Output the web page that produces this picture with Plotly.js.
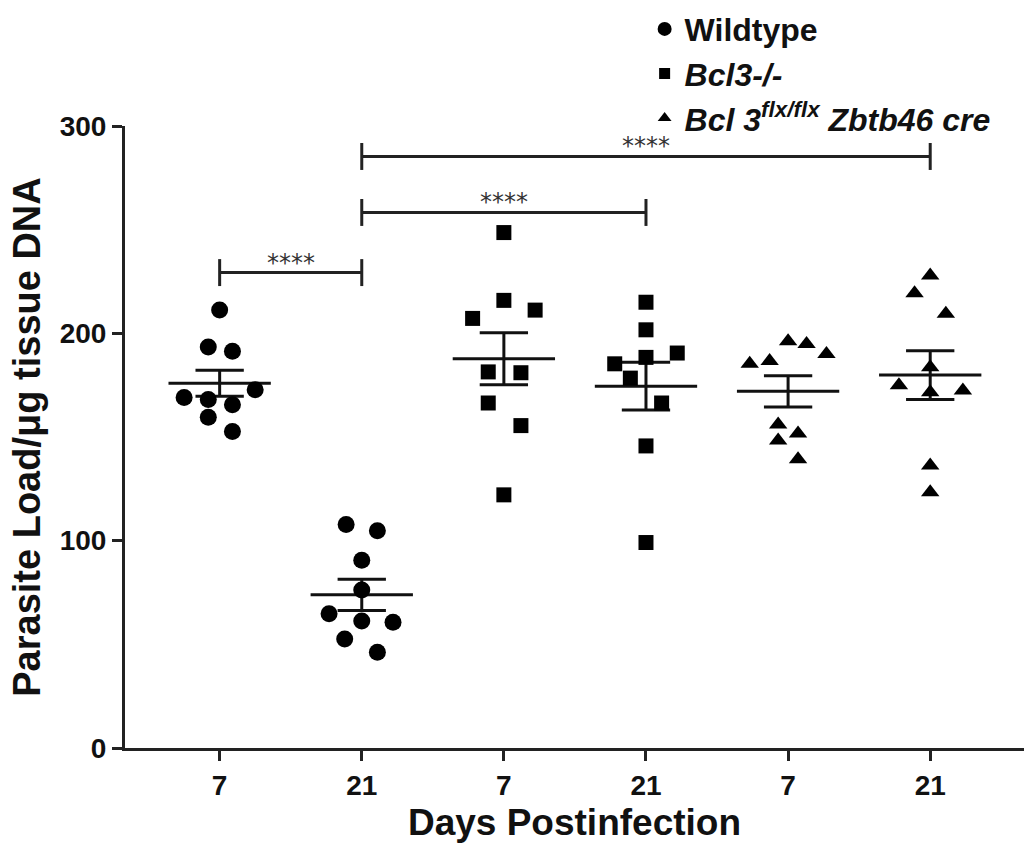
<!DOCTYPE html>
<html>
<head>
<meta charset="utf-8">
<script src="https://cdn.plot.ly/plotly-3.0.1.min.js"></script>
<style>html,body{margin:0;padding:0;background:#fff;}#chart{width:1024px;height:851px;}</style>
</head>
<body>
<div id="chart"></div>
<script>
// ---- data ----
const categories = [1, 2, 3, 4, 5, 6];
const tickLabels = ['7', '21', '7', '21', '7', '21'];

const wildtype7  = [211.2, 193.4, 191.4, 172.8, 169.0, 168.1, 165.5, 159.5, 152.6];
const wildtype7Jitter  = [0, -0.08, 0.09, 0.25, -0.25, -0.08, 0.09, -0.08, 0.09];
const wildtype21 = [107.8, 104.8, 90.5, 76.2, 64.7, 61.2, 60.7, 52.6, 46.2];
const wildtype21Jitter = [-0.11, 0.11, 0, 0, -0.23, 0, 0.22, -0.12, 0.11];

const bcl3ko7  = [248.6, 215.9, 211.2, 207.2, 181.4, 181.0, 166.4, 155.5, 122.1];
const bcl3ko7Jitter  = [0, 0, 0.22, -0.22, -0.11, 0.12, -0.11, 0.12, 0];
const bcl3ko21 = [215.0, 201.7, 188.4, 190.5, 185.3, 178.4, 166.4, 145.7, 99.1];
const bcl3ko21Jitter = [0, 0, 0, 0.22, -0.22, -0.11, 0.11, 0, 0];

const bcl3flx7  = [196.2, 194.8, 190.0, 185.3, 186.6, 156.0, 151.7, 148.3, 139.3];
const bcl3flx7Jitter  = [0, 0.13, 0.27, -0.27, -0.13, -0.07, 0.07, -0.07, 0.07];
const bcl3flx21 = [227.9, 219.3, 209.5, 183.6, 175.0, 171.6, 172.4, 136.2, 123.3];
const bcl3flx21Jitter = [0, -0.11, 0.11, 0, -0.22, 0, 0.23, 0, 0];

const seriesNames = ['<b>Wildtype</b>', '<b><i>Bcl3-/-</i></b>', '<b><i>Bcl 3<sup>flx/flx</sup> Zbtb46 cre</i></b>'];
const comparisons = [ // [from category, to category, bracket height, label]
  [1, 2, 229.3, '****'],
  [2, 4, 258.3, '****'],
  [2, 6, 285.3, '****']
];

// ---- helpers ----
function mean(a){ return a.reduce((s,v)=>s+v,0)/a.length; }
function sem(a){ const m=mean(a); const v=a.reduce((s,x)=>s+(x-m)*(x-m),0)/(a.length-1); return Math.sqrt(v/a.length); }

const groups = [
  {cat: categories[0], vals: wildtype7,  jit: wildtype7Jitter,  s: 0},
  {cat: categories[1], vals: wildtype21, jit: wildtype21Jitter, s: 0},
  {cat: categories[2], vals: bcl3ko7,    jit: bcl3ko7Jitter,    s: 1},
  {cat: categories[3], vals: bcl3ko21,   jit: bcl3ko21Jitter,   s: 1},
  {cat: categories[4], vals: bcl3flx7,   jit: bcl3flx7Jitter,   s: 2},
  {cat: categories[5], vals: bcl3flx21,  jit: bcl3flx21Jitter,  s: 2}
];
const symbols = ['circle', 'square', 'triangle-up'];
const sizes = [17, 15, 16];
const legendSizes = [14, 11, 12];

const traces = [];
// error bars (mean +/- SEM)
const lx = [], ly = [];
groups.forEach(g => {
  const m = mean(g.vals), e = sem(g.vals), c = g.cat;
  lx.push(c-0.36, c+0.36, null, c-0.17, c+0.17, null, c-0.17, c+0.17, null, c, c, null);
  ly.push(m, m, null, m+e, m+e, null, m-e, m-e, null, m-e, m+e, null);
});
traces.push({x: lx, y: ly, mode: 'lines', line: {color: '#111', width: 3}, showlegend: false, hoverinfo: 'skip'});

for (let s = 0; s < 3; s++) {
  const xs = [], ys = [];
  groups.filter(g => g.s === s).forEach(g => {
    g.vals.forEach((v, i) => { xs.push(g.cat + g.jit[i]); ys.push(v); });
  });
  traces.push({
    x: xs, y: ys, mode: 'markers', name: seriesNames[s], legendgroup: 'g' + s, showlegend: false,
    marker: {symbol: symbols[s], size: sizes[s], color: '#000'}
  });
  // legend entry with the smaller legend symbol
  traces.push({
    x: [null], y: [null], mode: 'markers', name: seriesNames[s], legendgroup: 'g' + s, showlegend: true,
    marker: {symbol: symbols[s], size: legendSizes[s], color: '#000'}
  });
}

const shapes = [], annotations = [];
comparisons.forEach(c => {
  const [a, b, h, lab] = c;
  const L = {type: 'line', xref: 'x', yref: 'y', line: {color: '#222', width: 3}};
  shapes.push(Object.assign({x0: a, x1: b, y0: h, y1: h}, L));
  shapes.push(Object.assign({x0: a, x1: a, y0: h-6.5, y1: h+6.5}, L));
  shapes.push(Object.assign({x0: b, x1: b, y0: h-6.5, y1: h+6.5}, L));
  annotations.push({x: (a+b)/2, y: h, xref: 'x', yref: 'y', text: lab, showarrow: false,
    yanchor: 'bottom', yshift: -6, font: {size: 24, color: '#333', family: '"DejaVu Sans", sans-serif'}});
});

const font = {family: '"Liberation Sans", Arial, Helvetica, sans-serif', color: '#111'};
const layout = {
  width: 1024, height: 851,
  margin: {l: 125, r: 0, t: 126, b: 103, autoexpand: false},
  paper_bgcolor: '#fff', plot_bgcolor: '#fff',
  font: font,
  showlegend: true,
  legend: {x: 0.578, y: 1.2, xanchor: 'left', yanchor: 'top', bgcolor: 'rgba(0,0,0,0)',
    font: {size: 32, family: font.family, color: '#111'}, tracegroupgap: 0, itemwidth: 30},
  xaxis: {
    range: [0.334, 6.66], tickvals: categories, ticktext: tickLabels,
    showline: true, linecolor: '#222', linewidth: 3, ticks: 'outside', ticklen: 10, tickwidth: 3, tickcolor: '#222',
    showgrid: false, zeroline: false,
    tickfont: {size: 28, weight: 'bold', family: font.family, color: '#111'},
    title: {text: 'Days Postinfection', font: {size: 37, weight: 'bold', family: font.family, color: '#111'}, standoff: 10}
  },
  yaxis: {
    range: [0, 300], tickvals: [0, 100, 200, 300],
    showline: true, linecolor: '#222', linewidth: 3, ticks: 'outside', ticklen: 10, tickwidth: 3, tickcolor: '#222',
    showgrid: false, zeroline: false,
    tickfont: {size: 28, weight: 'bold', family: font.family, color: '#111'},
    title: {text: 'Parasite Load/μg tissue DNA', font: {size: 38, weight: 'bold', family: font.family, color: '#111'}, standoff: 8}
  },
  shapes: shapes,
  annotations: annotations
};

Plotly.newPlot('chart', traces, layout, {displayModeBar: false, staticPlot: true});
</script>
</body>
</html>
